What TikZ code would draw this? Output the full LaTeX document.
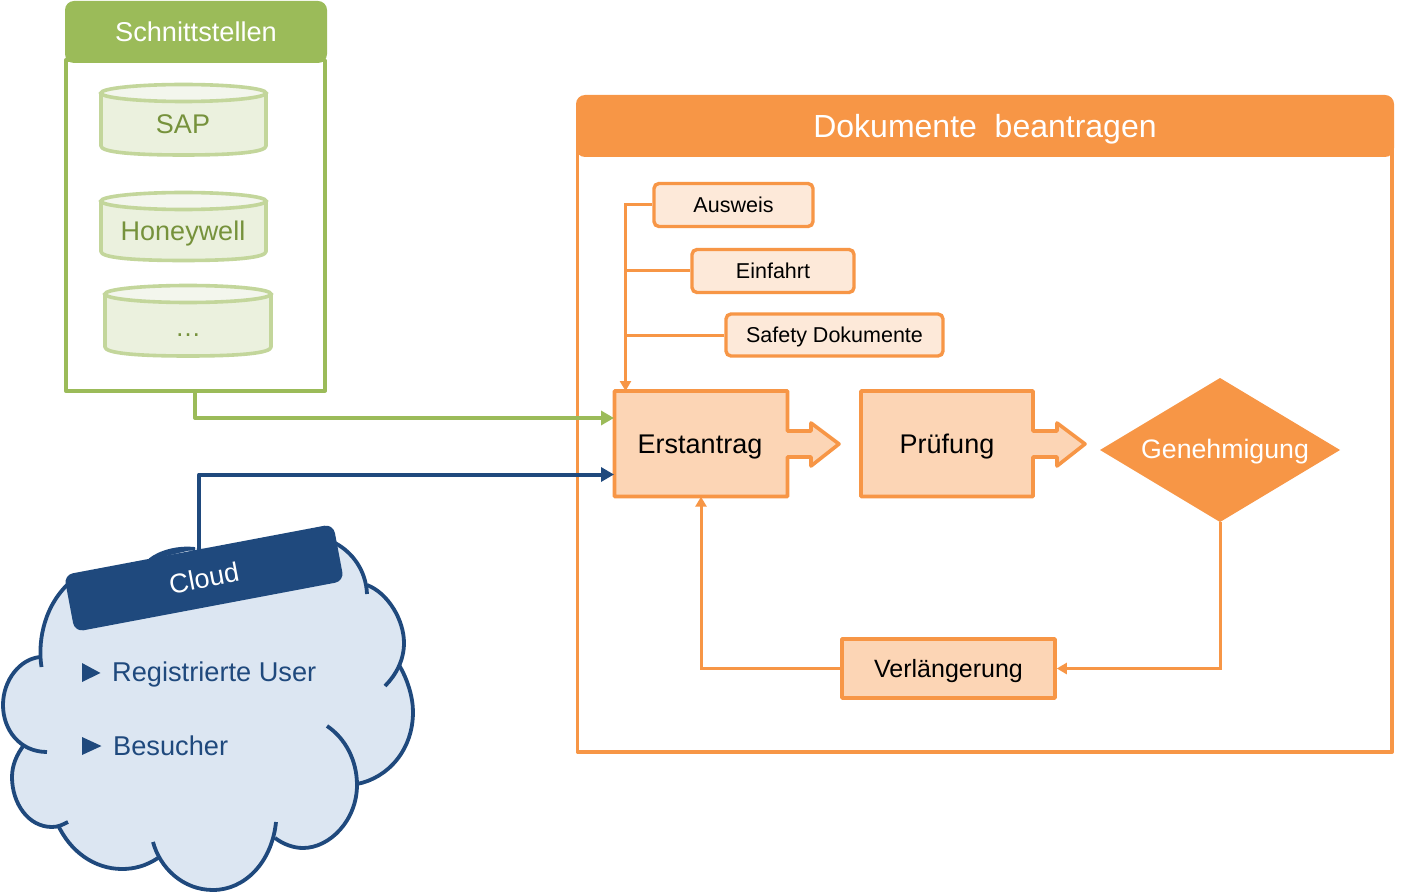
\documentclass[tikz,border=0pt]{standalone}
\usepackage{fontspec}
\setmainfont{Liberation Sans}
\usetikzlibrary{arrows.meta}
\definecolor{org}{HTML}{F79646}
\definecolor{orgl}{HTML}{FCD5B5}
\definecolor{orgp}{HTML}{FDE9D9}
\definecolor{grn}{HTML}{9BBB59}
\definecolor{grnl}{HTML}{C3D69B}
\definecolor{grnf}{HTML}{EBF1DE}
\definecolor{grnt}{HTML}{F3F6ED}
\definecolor{grnd}{HTML}{76923C}
\definecolor{blu}{HTML}{1F497D}
\definecolor{bluf}{HTML}{DCE6F2}
\newcommand{\fs}[1]{\fontsize{#1}{#1}\selectfont}
\newcommand{\dn}[2]{\raisebox{-#1pt}[0pt][0pt]{#2}}
\tikzset{
  x=1pt,y=-1pt,
  hdr/.style={fill=#1,rounded corners=9pt,inner sep=0pt},
  frameline/.style={line width=3.8pt,line join=round},
  flowbox/.style={draw=org,fill=orgl,line width=3.6pt,line join=round},
  docbox/.style={draw=org,fill=orgp,line width=3.4pt,rounded corners=5pt,inner sep=0pt,font=\fs{21.5}},
  thinconn/.style={draw=org,line width=3pt,-{Triangle[length=10pt,width=11pt]}},
  plainconn/.style={draw=org,line width=3pt},
  cyl/.style={draw=grnl,line width=3.6pt,fill=grnf,line join=round},
  cyltop/.style={draw=grnl,line width=3.6pt,fill=grnt},
  cyltext/.style={text=grnd,font=\fs{27},inner sep=0pt},
  lobe/.style={draw=blu,line width=3.8pt,line cap=butt},
  lobefill/.style={fill=bluf},
  bul/.style={fill=blu},
  cloudtext/.style={text=blu,font=\fs{27.2},inner sep=0pt,anchor=west},
}
\newcommand{\cylinder}[5]{% x1 x2 y1 y2 name
  \draw[cyl] (#1,#3+9) -- (#1,#4-9) .. controls (#1,#4-3) and (#1+30,#4) .. ({(#1+#2)/2},#4)
     .. controls (#2-30,#4) and (#2,#4-3) .. (#2,#4-9) -- (#2,#3+9) -- cycle;
  \draw[cyltop] ({(#1+#2)/2},#3+9) ellipse [x radius={(#2-#1)/2},y radius=8.5];
  \coordinate (#5) at ({(#1+#2)/2},{(#3+#4)/2+6});
}
\newcommand{\lobes}[1]{%
  \path[#1] (41.5,667) .. controls (38,645) and (42,610) .. (67,585);
  \path[#1] (150,560) .. controls (160,552) and (178,547) .. (195,549);
  \path[#1] (335,543) .. controls (352,552) and (366,570) .. (367,594);
  \path[#1] (367,585) .. controls (388,593) and (404,620) .. (404,643) .. controls (404,660) and (396,675) .. (385,686);
  \path[#1] (399,665) .. controls (408,680) and (413,698) .. (413,712) .. controls (413,750) and (388,778) .. (357,784);
  \path[#1] (327,726) .. controls (345,738) and (357,760) .. (357,785) .. controls (357,820) and (330,848) .. (303,848) .. controls (293,848) and (283,844) .. (275,838);
  \path[#1] (276,822) .. controls (272,862) and (245,890) .. (213,890) .. controls (183,890) and (160,868) .. (153,842);
  \path[#1] (158,858) .. controls (146,866) and (134,869) .. (122,869) .. controls (94,869) and (70,851) .. (58,825);
  \path[#1] (68,822) .. controls (62,825) and (58,827) .. (52,827) .. controls (28,827) and (12,803) .. (12,777) .. controls (12,765) and (17,754) .. (24,745);
  \path[#1] (47,752) .. controls (20,752) and (3,730) .. (3,705) .. controls (3,680) and (20,659) .. (40,657);
}
\begin{document}
\begin{tikzpicture}
\useasboundingbox (0,0) rectangle (1421,893);

% Schnittstellen
\draw[frameline,draw=grn,fill=white] (65.7,60) rectangle (325,390.7);
\node[hdr=grn,minimum width=262pt,minimum height=62pt,text=white,font=\fs{27.2}] (schnitt) at (196,32) {Schnittstellen};
\coordinate (schnittout) at (195,391);
\cylinder{101}{266}{84}{155}{sapc}
\node[cyltext] (sap) at (183,124) {SAP};
\cylinder{101}{266}{192}{260.5}{honc}
\node[cyltext] (hon) at (183,234) {Honeywell};
\cylinder{105}{271}{285}{356}{dotc}
\node[text=grnd,font=\fs{26},inner sep=0pt] (dots) at (188,335) {…};

% Dokumente frame
\draw[frameline,draw=org,fill=white] (577.5,148) rectangle (1392,752);
\node[hdr=org,minimum width=818pt,minimum height=62pt,text=white,font=\fs{32}] (dok) at (985,126) {\dn{12}{Dokumente\ \ beantragen}};

% Flow shapes
\draw[flowbox] (614.5,391) -- (787.5,391) -- (787.5,431) -- (811,431) -- (811,423) -- (839,444) -- (811,466) -- (811,457) -- (787.5,457) -- (787.5,496.5) -- (614.5,496.5) -- cycle;
\node[minimum width=173pt,minimum height=105.5pt,inner sep=0pt] (erstbox) at (701,443.75) {};
\node[font=\fs{27},inner sep=0pt] (erst) at (700,447) {Erstantrag};
\draw[flowbox] (861,391) -- (1033,391) -- (1033,431) -- (1057,431) -- (1057,423) -- (1085,444) -- (1057,466) -- (1057,457) -- (1033,457) -- (1033,496.5) -- (861,496.5) -- cycle;
\node[font=\fs{27},inner sep=0pt] (pruef) at (947,447) {Prüfung};

\fill[org] (1100,450) -- (1220,378) -- (1340,450) -- (1220,522) -- cycle;
\coordinate (genout) at (1220.5,522);
\node[text=white,font=\fs{26.7},inner sep=0pt] (gen) at (1225,452) {Genehmigung};

\node[flowbox,minimum width=213pt,minimum height=59pt,inner sep=0pt,font=\fs{25}] (verl) at (948.5,668.5) {\dn{9.3}{Verlängerung}};

\node[docbox,minimum width=159pt,minimum height=43pt] (ausw) at (733.5,205) {Ausweis};
\node[docbox,minimum width=162pt,minimum height=43pt] (einf) at (773,271) {Einfahrt};
\node[docbox,minimum width=217pt,minimum height=42pt] (safe) at (834.5,335) {\dn{7.5}{Safety Dokumente}};

% Orange connectors
\coordinate (erstin) at (625.5,391);
\draw[plainconn] (einf.west) -- (erstin |- einf.west);
\draw[plainconn] (safe.west) -- (erstin |- safe.west);
\draw[thinconn] (ausw.west) -| (erstin);
\draw[thinconn] (genout) |- (verl.east);
\draw[thinconn] (verl.west) -| (erstbox.south);

% External connectors
\draw[draw=grn,line width=4pt,line join=round,-{Triangle[length=13pt,width=14pt]}] (schnittout) |- (614,418) coordinate (ein1);

% Cloud
\lobes{lobefill}
\filldraw[bluf,line width=1.5pt] (67,585) -- (195,549) -- (335,543) -- (367,590) -- (398,670) -- (357,784) -- (275,838) -- (213,860) -- (158,858) -- (58,825) -- (24,745) -- (40,657) -- cycle;
\lobes{lobe}
\fill[blu] (150,560) .. controls (160,552) and (178,547) .. (195,549) -- cycle;
\coordinate (cloudout) at (199,550);
\draw[draw=blu,line width=4pt,line join=round,-{Triangle[length=13pt,width=14pt]}] (cloudout) |- (614,474.5);
\node[fill=blu,rounded corners=9pt,rotate=10.7,minimum width=274pt,minimum height=58pt,inner sep=0pt,text=white,font=\fs{27}] (cloud) at (204,578) {Cloud};
\fill[bul] (82,663) -- (100.5,673) -- (82,682) -- cycle;
\fill[bul] (82,737) -- (101.5,746) -- (82,755) -- cycle;
\node[cloudtext] (reg) at (112,674.5) {Registrierte User};
\node[cloudtext] (bes) at (113,746) {Besucher};
\end{tikzpicture}
\end{document}
